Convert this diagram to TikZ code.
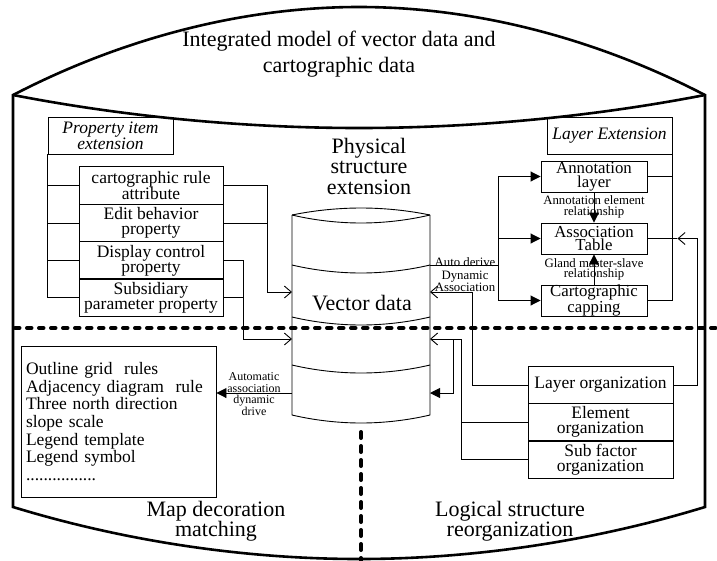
\documentclass[tikz,border=0pt]{standalone}
\usepackage{fontspec}
\setmainfont{Liberation Serif}
\usepackage{tikz}
\usetikzlibrary{arrows.meta,calc}

\begin{document}
\begin{tikzpicture}[x=1pt,y=-1pt,
    frame/.style={line width=2.6pt},
    thinline/.style={line width=0.9pt},
    box/.style={draw,line width=0.9pt,inner sep=0pt,align=center,font=\fontsize{17.5}{15}\selectfont},
    headbox/.style={box,minimum width=125pt,minimum height=37pt,font=\fontsize{17.5}{16}\selectfont\itshape},
    layerbox/.style={box,minimum width=106pt,minimum height=31pt,font=\fontsize{16.8}{13.5}\selectfont},
    section/.style={align=center,inner sep=0pt,font=\fontsize{22}{20.5}\selectfont},
    small/.style={align=center,inner sep=0pt,font=\fontsize{12.8}{12.5}\selectfont},
    openarr/.style={thinline,-{Straight Barb[length=7pt,width=12pt]}},
    filledarr/.style={thinline,-{Triangle[length=10pt,width=10pt]}},
    dashline/.style={line width=4pt,line cap=round,dash pattern=on 4.5pt off 7.5pt}]
    \useasboundingbox (0,0) rectangle (717,560);
    % outer drum
    \draw[frame] (13,95) parabola bend (359,7) (705,95) -- (705,507) parabola bend (359,559) (13,507) -- cycle;
    \draw[frame] (13,95) parabola bend (359,128) (705,95);
    \node[section,font=\fontsize{22}{26}\selectfont] (title) at (339,54) {Integrated model of vector data and\\cartographic data};
    \draw[dashline] (15,328) -- (717,328);
    \draw[dashline,dash pattern=on 6pt off 8pt] (361,432) -- (361,562);
    % vector data cylinder
    \draw[thinline] (292,215) -- (292,415) parabola bend (361,423) (430,415) -- (430,215);
    \draw[thinline] (292,215) parabola bend (361,208) (430,215);
    \foreach \y in {215,265,317,365}
      \draw[thinline] (292,\y) parabola bend (361,\y+8) (430,\y);
    \node[section,font=\fontsize{22}{22}\selectfont] (vec) at (362,303) {Vector data};
    \node[section] (phys) at (369,166) {Physical\\structure\\extension};
    \coordinate (cyl1) at (292,292);
    \coordinate (cyl2) at (292,339);
    \coordinate (cyl6) at (292,393);
    \coordinate (cylA) at (430,265);
    \coordinate (cyl3) at (430,292);
    \coordinate (cyl4) at (430,339);
    \coordinate (cyl5) at (430,393);
    % property items
    \node[headbox] (prop) at (110.5,135.5) {Property item\\extension};
    \node[box,minimum width=144pt,minimum height=37.5pt] (p1) at (151,185.5) {cartographic rule\\attribute};
    \node[box,minimum width=144pt,minimum height=37.5pt] (p2) at (151,223) {Edit behavior\\property};
    \node[box,minimum width=144pt,minimum height=37.5pt] (p3) at (151,260.5) {Display control\\property};
    \node[box,minimum width=144pt,minimum height=37.5pt] (p4) at (151,297.5) {Subsidiary\\parameter property};
    \foreach \n in {p1,p2,p3,p4}
      \draw[thinline] (\n.west) -| (prop.south west);
    \draw[openarr] (p1.east) -- ++(44,0) |- (cyl1);
    \draw[thinline] (p2.east) -- ++(44,0);
    \draw[openarr] (p3.east) -- ++(20,0) |- (cyl2);
    \draw[thinline] (p4.east) -- ++(20,0);
    % layer extension
    \node[headbox] (layext) at (609.5,135.5) {Layer Extension};
    \node[layerbox] (annot) at (594,176.5) {Annotation\\layer};
    \node[layerbox] (assoc) at (594,238.5) {Association\\Table};
    \node[layerbox] (capping) at (594,300.5) {Cartographic\\capping};
    \draw[thinline] (layext.south east) |- (capping.east);
    \draw[thinline] (annot.east) -| (layext.south east);
    \node[small,font=\fontsize{12.8}{10.5}\selectfont] (annrel) at (594,207) {Annotation element\\relationship};
    \node[small,font=\fontsize{12.8}{10.5}\selectfont] (glandrel) at (594,269.5) {Gland master-slave\\relationship};
    \draw[filledarr] (annot.south) -- (assoc.north);
    \draw[filledarr] (capping.north) -- (assoc.south);
    \coordinate (bus) at (498,265);
    \draw[thinline] (cylA) -- (bus);
    \foreach \n in {annot,assoc,capping}
      \draw[filledarr] (bus) |- (\n.west);
    \node[small] (auto) at (465,275) {Auto derive\\Dynamic\\Association};
    % logical structure
    \node[box,minimum width=145pt,minimum height=37pt] (layorg) at (600.5,385) {Layer organization};
    \node[box,minimum width=145pt,minimum height=37pt] (elem) at (600.5,422) {Element\\organization};
    \node[box,minimum width=145pt,minimum height=37pt] (subf) at (600.5,459.5) {Sub factor\\organization};
    \draw[openarr] (layorg.west) -- ++(-55,0) |- (cyl3);
    \draw[openarr] (layorg.east) -- ++(24,0) |- ([xshift=30pt]assoc.east);
    \draw[thinline] ([xshift=30pt]assoc.east) -- (assoc.east);
    \draw[openarr] (subf.west) -- ++(-66,0) |- (cyl4);
    \draw[thinline] (elem.west) -- ++(-66,0);
    \coordinate (split) at (453,339);
    \draw[filledarr] (split) |- (cyl5);
    \node[section] (logic) at (510,521) {Logical structure\\reorganization};
    % map decoration
    \node[box,minimum width=195pt,minimum height=151pt,align=left,font=\fontsize{17.5}{17.6}\selectfont,text width=185pt] (mapbox) at (118.5,421.5) {Outline grid~ rules\\Adjacency diagram~ rule\\Three north direction\\slope scale\\Legend template\\Legend symbol\\................};
    \draw[filledarr] (cyl6) -- (mapbox.east |- cyl6);
    \node[small,font=\fontsize{12}{11.5}\selectfont] (autoassoc) at (254,394) {Automatic\\association\\dynamic\\drive};
    \node[section] (mapdec) at (216,521) {Map decoration\\matching};
\end{tikzpicture}
\end{document}
